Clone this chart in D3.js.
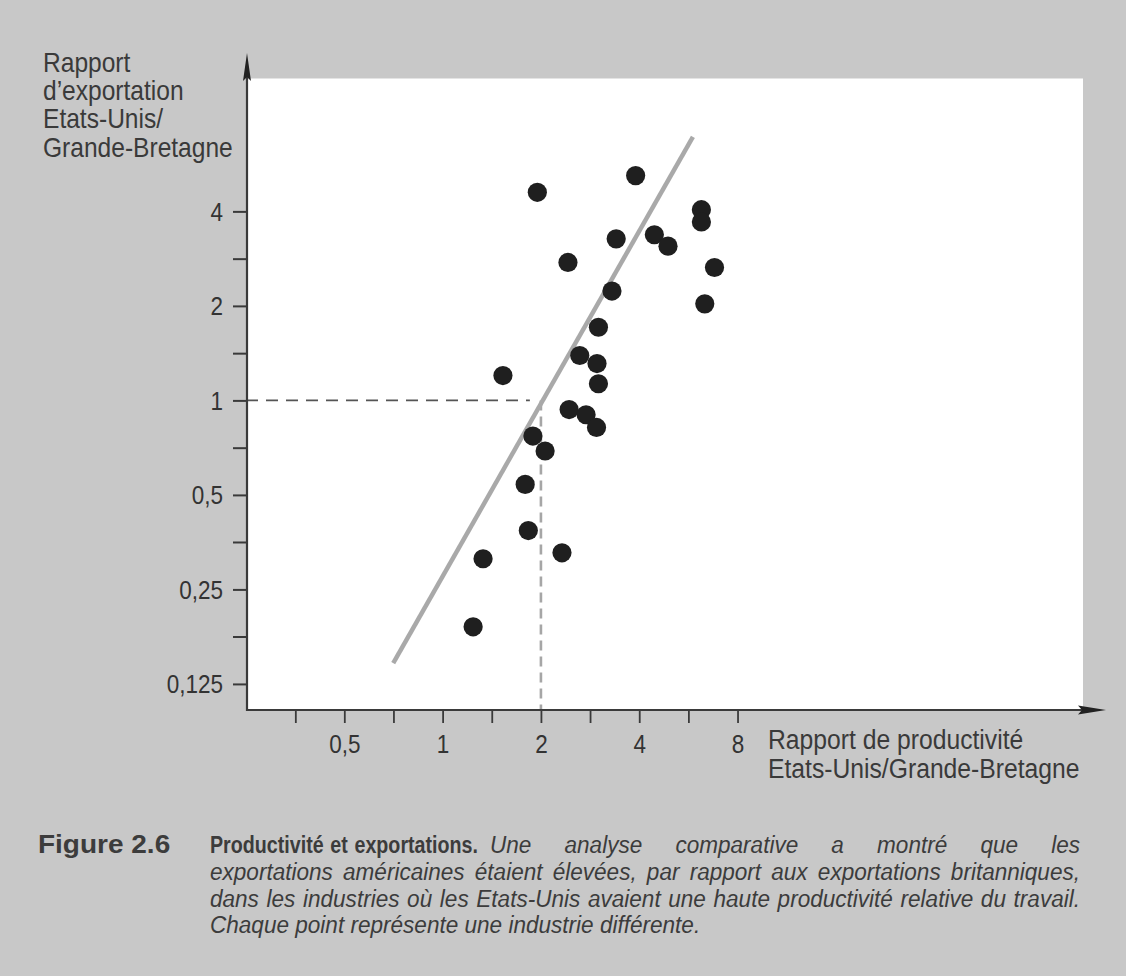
<!DOCTYPE html>
<html>
<head>
<meta charset="utf-8">
<script src="https://cdn.jsdelivr.net/npm/d3@7"></script>
<style>
  html, body { margin: 0; padding: 0; background: #c8c8c8; }
  svg { display: block; }
</style>
</head>
<body>
<svg id="chart" width="1126" height="976"></svg>
<script>
// ---------------- DATA ----------------
const industries = ["i1","i2","i3","i4","i5","i6","i7","i8","i9","i10","i11","i12","i13","i14","i15","i16","i17","i18","i19","i20","i21","i22","i23","i24","i25","i26"];
const productivityRatio = [1.95, 3.9, 6.2, 6.2, 3.4, 4.45, 4.9, 2.42, 6.8, 3.3, 6.35, 3.0, 2.63, 2.97, 3.0, 1.53, 2.44, 2.75, 2.96, 1.89, 2.06, 1.79, 1.83, 2.32, 1.33, 1.24];
const exportRatio       = [4.6, 5.2, 4.05, 3.7, 3.27, 3.37, 3.1, 2.75, 2.65, 2.23, 2.03, 1.71, 1.39, 1.31, 1.13, 1.2, 0.935, 0.9, 0.82, 0.77, 0.69, 0.54, 0.385, 0.327, 0.313, 0.19];

const trendX = [0.706, 5.84];
const trendY = [0.1456, 6.91];

const guideX = [0.25, 1.85];   // horizontal dashed guide at y = 1
const guideY = [1];
const guideVX = [2];           // vertical dashed guide at x = 2
const guideVY = [1, 0.104];

const xMajorTicks = [0.5, 1, 2, 4, 8];
const xTickLabels = ["0,5", "1", "2", "4", "8"];
const xMinorTicks = [0.354, 0.707, 1.414, 2.828, 5.657];

const yMajorTicks = [0.125, 0.25, 0.5, 1, 2, 4];
const yTickLabels = ["0,125", "0,25", "0,5", "1", "2", "4"];
const yMinorTicks = [0.177, 0.354, 0.707, 1.414, 2.828];

const yTitleLines = ["Rapport", "d\u2019exportation", "Etats-Unis/", "Grande-Bretagne"];
const xTitleLines = ["Rapport de productivit\u00e9", "Etats-Unis/Grande-Bretagne"];

const figureLabel = "Figure 2.6";
const captionBold = "Productivit\u00e9 et exportations.";
const captionLines = [
  "Une analyse comparative a montr\u00e9 que les",
  "exportations am\u00e9ricaines \u00e9taient \u00e9lev\u00e9es, par rapport aux exportations britanniques,",
  "dans les industries o\u00f9 les Etats-Unis avaient une haute productivit\u00e9 relative du travail.",
  "Chaque point repr\u00e9sente une industrie diff\u00e9rente."
];

// ---------------- LAYOUT ----------------
const svg = d3.select("#chart");
const FONT = "'Liberation Sans', Arial, Helvetica, sans-serif";

const x = d3.scaleLog().base(2).domain([0.25, 91.4]).range([246, 1083]);
const y = d3.scaleLog().base(2).domain([0.104, 10.6]).range([709, 78.5]);

const axisX = 247, axisY = 710;

svg.append("rect").attr("width", 1126).attr("height", 976).attr("fill", "#c8c8c8");

// white plot panel
svg.append("rect")
  .attr("x", axisX).attr("y", y.range()[1])
  .attr("width", x.range()[1] - axisX)
  .attr("height", axisY - y.range()[1])
  .attr("fill", "#ffffff");

// dashed guides
svg.append("line")
  .attr("x1", x(guideX[0])).attr("x2", x(guideX[1]))
  .attr("y1", y(guideY[0])).attr("y2", y(guideY[0]))
  .attr("stroke", "#555").attr("stroke-width", 1.6)
  .attr("stroke-dasharray", "12,8");

svg.append("line")
  .attr("x1", x(guideVX[0])).attr("x2", x(guideVX[0]))
  .attr("y1", y(guideVY[0])).attr("y2", y(guideVY[1]))
  .attr("stroke", "#a6a6a6").attr("stroke-width", 2.6)
  .attr("stroke-dasharray", "10,6");

// trend line
const trendData = trendX.map((d, i) => [d, trendY[i]]);
svg.append("path")
  .datum(trendData)
  .attr("d", d3.line().x(d => x(d[0])).y(d => y(d[1])))
  .attr("fill", "none").attr("stroke", "#a9a9a9").attr("stroke-width", 4.5);

// points
const pts = industries.map((name, i) => ({ name, px: productivityRatio[i], ey: exportRatio[i] }));
svg.append("g").selectAll("circle").data(pts).join("circle")
  .attr("cx", d => x(d.px)).attr("cy", d => y(d.ey))
  .attr("r", 9.6).attr("fill", "#1f1f1f");

// ---------------- AXES ----------------
const xAll = xMajorTicks.concat(xMinorTicks);
const xAxis = d3.axisBottom(x).tickValues(xAll).tickSize(13).tickPadding(0)
  .tickFormat(d => { const k = xMajorTicks.indexOf(d); return k >= 0 ? xTickLabels[k] : ""; });
const gx = svg.append("g").attr("transform", `translate(0,${axisY})`).call(xAxis);
gx.select(".domain").remove();
gx.selectAll(".tick line").attr("stroke", "#3a3a3a").attr("stroke-width", 1.8);
gx.selectAll(".tick text")
  .attr("y", 43).attr("dy", 0)
  .attr("font-family", FONT).attr("font-size", 25).attr("fill", "#333")
  .attr("transform", "scale(0.9,1)");

const yAll = yMajorTicks.concat(yMinorTicks);
const yAxis = d3.axisLeft(y).tickValues(yAll).tickSize(14).tickPadding(0)
  .tickFormat(d => { const k = yMajorTicks.indexOf(d); return k >= 0 ? yTickLabels[k] : ""; });
const gy = svg.append("g").attr("transform", `translate(${axisX},0)`).call(yAxis);
gy.select(".domain").remove();
gy.selectAll(".tick line").attr("stroke", "#3a3a3a").attr("stroke-width", 2);
gy.selectAll(".tick text")
  .attr("x", -24 / 0.9).attr("dy", 9)
  .attr("font-family", FONT).attr("font-size", 25).attr("fill", "#333")
  .attr("transform", "scale(0.9,1)");

// axis lines with arrows
svg.append("line").attr("x1", axisX).attr("x2", 1085).attr("y1", axisY).attr("y2", axisY)
  .attr("stroke", "#3a3a3a").attr("stroke-width", 2.2);
svg.append("path").attr("d", `M1106,${axisY} L1078,${axisY - 4.5} L1082,${axisY} L1078,${axisY + 4.5} Z`)
  .attr("fill", "#222");
svg.append("line").attr("x1", axisX).attr("x2", axisX).attr("y1", axisY + 1).attr("y2", 75)
  .attr("stroke", "#3a3a3a").attr("stroke-width", 2.2);
svg.append("path").attr("d", `M${axisX},53 L${axisX - 4},81 L${axisX},77 L${axisX + 4},81 Z`)
  .attr("fill", "#222");

// axis titles
const yt = svg.append("g").attr("transform", "translate(43,0) scale(0.91,1)");
yt.selectAll("text").data(yTitleLines).join("text")
  .attr("x", 0).attr("y", (d, i) => [72, 100, 128.5, 157.5][i])
  .attr("font-family", FONT).attr("font-size", 27).attr("fill", "#3a3a3a")
  .text(d => d);

const xt = svg.append("g").attr("transform", "translate(768,0) scale(0.915,1)");
xt.selectAll("text").data(xTitleLines).join("text")
  .attr("x", 0).attr("y", (d, i) => [749, 778][i])
  .attr("font-family", FONT).attr("font-size", 27).attr("fill", "#3a3a3a")
  .text(d => d);

// ---------------- CAPTION ----------------
const capColor = "#3c3c3c";

// helper: text in a horizontally scaled group, justified via word-spacing to a target width
function justified(str, x0, y0, width, scale, opts) {
  const g = svg.append("g").attr("transform", `translate(${x0},${y0}) scale(${scale},1)`);
  const t = g.append("text").attr("x", 0).attr("y", 0)
    .attr("font-family", FONT).attr("font-size", opts.size).attr("fill", capColor)
    .attr("font-weight", opts.weight || "normal").attr("font-style", opts.style || "normal")
    .text(str);
  if (width) {
    const natural = t.node().getComputedTextLength();
    const spaces = (str.match(/ /g) || []).length;
    if (spaces > 0) t.attr("word-spacing", (width / scale - natural) / spaces);
  }
  return t;
}

justified(figureLabel, 38, 853, null, 1.12, { size: 25, weight: "bold" });
justified(captionBold, 210, 853, 268, 0.82, { size: 24, weight: "bold" });

const capScale = 0.94;
const capStarts = [[490, 853], [210, 880], [210, 906.5], [210, 933]];
const capRight = 1080;
captionLines.forEach((line, i) => {
  const [sx, sy] = capStarts[i];
  const w = i < captionLines.length - 1 ? capRight - sx : null;
  justified(line, sx, sy, w, capScale, { size: 24, style: "italic" });
});
</script>
</body>
</html>
